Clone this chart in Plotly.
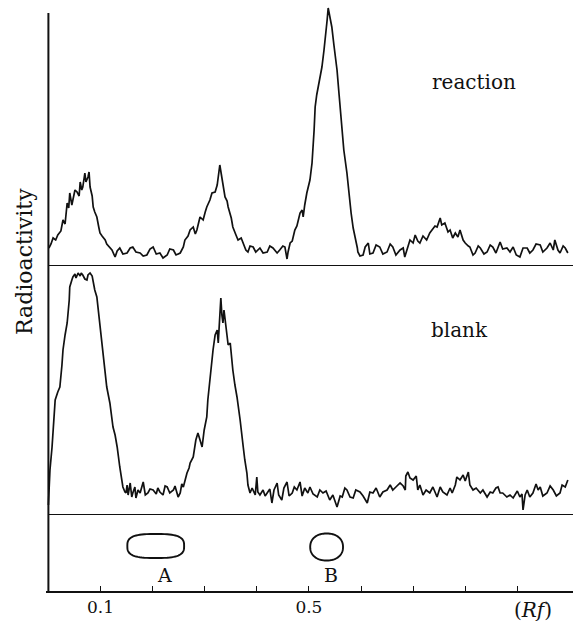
import numpy as np
import plotly.graph_objects as go

# ---------------- data ----------------
reaction_rf = [0.001, 0.005, 0.009, 0.014, 0.018, 0.024, 0.028, 0.032, 0.036, 0.039, 0.041, 0.045, 0.047, 0.051, 0.055, 0.059,
               0.061, 0.064, 0.066, 0.070, 0.072, 0.076, 0.078, 0.080, 0.084, 0.086, 0.089, 0.093, 0.097, 0.099, 0.103, 0.109,
               0.112, 0.118, 0.122, 0.128, 0.132, 0.137, 0.143, 0.151, 0.157, 0.162, 0.168, 0.176, 0.182, 0.189, 0.195, 0.201,
               0.207, 0.214, 0.220, 0.228, 0.233, 0.240, 0.245, 0.253, 0.259, 0.262, 0.268, 0.272, 0.278, 0.282, 0.285, 0.291,
               0.297, 0.301, 0.304, 0.310, 0.314, 0.320, 0.324, 0.329, 0.333, 0.335, 0.339, 0.343, 0.345, 0.351, 0.354, 0.360,
               0.364, 0.370, 0.374, 0.379, 0.383, 0.387, 0.393, 0.398, 0.406, 0.412, 0.420, 0.425, 0.431, 0.439, 0.444, 0.450,
               0.454, 0.458, 0.460, 0.464, 0.468, 0.473, 0.477, 0.483, 0.487, 0.489, 0.492, 0.496, 0.502, 0.506, 0.510, 0.512,
               0.515, 0.518, 0.521, 0.525, 0.529, 0.531, 0.535, 0.537, 0.540, 0.544, 0.548, 0.554, 0.558, 0.564, 0.567, 0.573,
               0.577, 0.581, 0.585, 0.589, 0.593, 0.594, 0.598, 0.604, 0.608, 0.614, 0.617, 0.623, 0.629, 0.636, 0.642, 0.650,
               0.656, 0.661, 0.667, 0.675, 0.681, 0.684, 0.688, 0.694, 0.700, 0.704, 0.709, 0.713, 0.719, 0.726, 0.732, 0.736,
               0.742, 0.746, 0.752, 0.755, 0.761, 0.767, 0.771, 0.776, 0.781, 0.786, 0.790, 0.796, 0.800, 0.806, 0.809, 0.815,
               0.819, 0.825, 0.829, 0.836, 0.842, 0.848, 0.853, 0.859, 0.867, 0.872, 0.880, 0.886, 0.892, 0.898, 0.905, 0.911,
               0.919, 0.924, 0.930, 0.936, 0.944, 0.949, 0.957, 0.963, 0.969, 0.972, 0.978, 0.982, 0.988, 0.992, 0.997]
reaction_counts = [18, 22, 28, 26, 31, 35, 46, 42, 63, 58, 73, 61, 66, 76, 74, 70,
                   84, 76, 79, 93, 84, 89, 94, 79, 70, 59, 54, 49, 38, 33, 30, 26,
                   22, 19, 16, 9, 15, 18, 12, 13, 18, 19, 14, 13, 10, 11, 17, 19,
                   12, 13, 8, 11, 17, 16, 11, 13, 19, 26, 30, 36, 39, 32, 36, 49,
                   46, 54, 59, 66, 73, 74, 81, 101, 89, 81, 69, 65, 59, 48, 39, 31,
                   26, 28, 23, 16, 14, 20, 19, 14, 18, 13, 14, 20, 18, 13, 16, 20,
                   19, 7, 14, 23, 25, 36, 40, 53, 56, 49, 61, 73, 86, 103, 136, 159,
                   171, 179, 188, 199, 216, 229, 246, 258, 251, 239, 221, 196, 171, 133, 116, 93,
                   71, 53, 38, 29, 18, 14, 10, 11, 19, 23, 12, 13, 21, 19, 12, 14,
                   22, 19, 11, 16, 18, 9, 17, 26, 23, 31, 25, 23, 30, 26, 33, 36,
                   40, 39, 48, 41, 43, 34, 36, 28, 33, 29, 36, 26, 23, 20, 19, 11,
                   13, 20, 18, 12, 14, 21, 19, 13, 24, 17, 18, 14, 19, 11, 9, 18,
                   18, 13, 16, 22, 21, 14, 18, 23, 16, 26, 16, 13, 20, 18, 13]

blank_rf = [0.000, 0.003, 0.007, 0.011, 0.013, 0.018, 0.022, 0.026, 0.028, 0.032, 0.036, 0.040, 0.041, 0.045, 0.047, 0.051,
            0.053, 0.057, 0.061, 0.063, 0.066, 0.070, 0.074, 0.076, 0.080, 0.084, 0.086, 0.089, 0.093, 0.099, 0.105, 0.109,
            0.112, 0.118, 0.124, 0.128, 0.132, 0.137, 0.143, 0.147, 0.149, 0.151, 0.153, 0.157, 0.160, 0.162, 0.166, 0.168,
            0.172, 0.176, 0.182, 0.186, 0.191, 0.195, 0.201, 0.207, 0.210, 0.214, 0.220, 0.224, 0.228, 0.233, 0.240, 0.243,
            0.249, 0.253, 0.256, 0.259, 0.262, 0.266, 0.270, 0.272, 0.278, 0.283, 0.287, 0.291, 0.295, 0.299, 0.304, 0.306,
            0.310, 0.314, 0.316, 0.320, 0.324, 0.326, 0.328, 0.329, 0.331, 0.333, 0.335, 0.337, 0.341, 0.343, 0.345, 0.349,
            0.352, 0.354, 0.358, 0.362, 0.368, 0.372, 0.374, 0.377, 0.381, 0.383, 0.387, 0.391, 0.393, 0.397, 0.400, 0.402,
            0.406, 0.412, 0.416, 0.420, 0.425, 0.429, 0.433, 0.439, 0.442, 0.448, 0.452, 0.458, 0.462, 0.468, 0.472, 0.477,
            0.483, 0.487, 0.492, 0.498, 0.502, 0.508, 0.516, 0.521, 0.527, 0.533, 0.540, 0.546, 0.554, 0.560, 0.564, 0.569,
            0.573, 0.579, 0.585, 0.590, 0.598, 0.604, 0.612, 0.617, 0.623, 0.629, 0.636, 0.642, 0.650, 0.656, 0.661, 0.667,
            0.675, 0.681, 0.685, 0.686, 0.690, 0.694, 0.700, 0.706, 0.709, 0.713, 0.719, 0.725, 0.732, 0.738, 0.746, 0.752,
            0.757, 0.765, 0.771, 0.775, 0.781, 0.784, 0.790, 0.796, 0.800, 0.806, 0.809, 0.815, 0.821, 0.829, 0.834, 0.842,
            0.848, 0.853, 0.859, 0.863, 0.867, 0.872, 0.880, 0.886, 0.892, 0.900, 0.905, 0.909, 0.911, 0.915, 0.919, 0.924,
            0.930, 0.936, 0.940, 0.944, 0.949, 0.957, 0.963, 0.969, 0.975, 0.982, 0.986, 0.992, 0.997]
blank_counts = [10, 45, 68, 95, 115, 123, 128, 150, 165, 180, 192, 215, 228, 235, 238, 241,
                237, 242, 239, 242, 240, 236, 235, 240, 242, 239, 232, 225, 218, 188, 158, 145,
                128, 112, 88, 80, 68, 48, 28, 23, 22, 30, 20, 32, 18, 22, 28, 17,
                25, 22, 33, 20, 22, 26, 25, 21, 27, 23, 20, 29, 28, 22, 25, 29,
                18, 22, 31, 28, 35, 42, 47, 52, 58, 75, 82, 75, 68, 85, 98, 115,
                138, 155, 165, 180, 185, 172, 190, 195, 217, 200, 192, 205, 185, 182, 170, 172,
                155, 145, 130, 118, 95, 80, 68, 55, 42, 30, 22, 27, 25, 20, 38, 23,
                20, 25, 19, 22, 26, 12, 25, 32, 20, 15, 27, 33, 19, 22, 28, 25,
                33, 19, 27, 22, 28, 21, 18, 25, 22, 24, 15, 20, 8, 19, 18, 27,
                25, 18, 17, 25, 23, 19, 12, 23, 22, 27, 18, 23, 25, 30, 25, 28,
                32, 29, 25, 39, 43, 37, 35, 39, 25, 30, 20, 25, 22, 28, 18, 28,
                23, 20, 27, 22, 30, 38, 35, 40, 34, 43, 30, 25, 27, 22, 25, 18,
                23, 22, 27, 28, 22, 22, 18, 20, 17, 24, 18, 21, 5, 20, 25, 18,
                22, 31, 25, 28, 19, 22, 29, 25, 19, 22, 30, 28, 35]

tick_vals = [0.1, 0.2, 0.3, 0.4, 0.5, 0.6, 0.7, 0.8, 0.9]
tick_text = ["0.1", "", "", "", "0.5", "", "", "", ""]

spot_names = ["A", "B"]
spot_rf = [0.206, 0.534]
spot_label_rf = [0.223, 0.542]

# ---------------- figure ----------------
W, H = 573, 621
serif = "DejaVu Serif"
ink = "#111111"

def py(p):  # pixel row -> paper y
    return (H - p) / H

x_lo = (46 - 48.4) / 521
x_hi = (573 - 48.4) / 521

fig = go.Figure()
fig.add_trace(go.Scatter(x=reaction_rf, y=reaction_counts, mode="lines",
                         line=dict(color=ink, width=1.7), xaxis="x", yaxis="y",
                         hoverinfo="skip", showlegend=False))
fig.add_trace(go.Scatter(x=blank_rf, y=blank_counts, mode="lines",
                         line=dict(color=ink, width=1.7), xaxis="x", yaxis="y2",
                         hoverinfo="skip", showlegend=False))

shapes = []
# vertical axis line
shapes.append(dict(type="line", xref="x", yref="paper", x0=0.0, x1=0.0,
                   y0=py(591), y1=py(13), line=dict(color=ink, width=2)))
# baselines
shapes.append(dict(type="line", xref="x", yref="y", x0=0.0, x1=x_hi, y0=0, y1=0,
                   line=dict(color=ink, width=2)))
shapes.append(dict(type="line", xref="x", yref="y2", x0=0.0, x1=x_hi, y0=0, y1=0,
                   line=dict(color=ink, width=2)))

# spots (outline drawn around the centre of each spot)
spot_w = [0.109, 0.063]
spot_h = [24, 27]
spot_y = [45, 44]
spot_pow = [3.0, 2.2]
t = np.linspace(0, 2 * np.pi, 73)
for cx, w, h, cy, pw in zip(spot_rf, spot_w, spot_h, spot_y, spot_pow):
    c, s = np.cos(t), np.sin(t)
    xs = cx + (w / 2) * np.sign(c) * np.abs(c) ** (2 / pw)
    ys = cy + (h / 2) * np.sign(s) * np.abs(s) ** (2 / pw)
    path = "M " + " L ".join(f"{a:.5f},{b:.3f}" for a, b in zip(xs, ys)) + " Z"
    shapes.append(dict(type="path", xref="x", yref="y3", path=path,
                       line=dict(color=ink, width=1.9), fillcolor="rgba(0,0,0,0)"))

annotations = []
for name, lx in zip(spot_names, spot_label_rf):
    annotations.append(dict(x=lx, y=16, xref="x", yref="y3", text=name, showarrow=False,
                            xanchor="center", yanchor="middle",
                            font=dict(family=serif, size=19, color=ink)))
annotations.append(dict(x=0.816, y=184, xref="x", yref="y", text="reaction", showarrow=False,
                        xanchor="center", yanchor="middle",
                        font=dict(family=serif, size=20, color=ink)))
annotations.append(dict(x=0.790, y=185, xref="x", yref="y2", text="blank", showarrow=False,
                        xanchor="center", yanchor="middle",
                        font=dict(family=serif, size=20, color=ink)))
annotations.append(dict(x=24 / W, y=py(262), xref="paper", yref="paper", text="Radioactivity",
                        textangle=-90, showarrow=False, xanchor="center", yanchor="middle",
                        font=dict(family=serif, size=22, color=ink)))
annotations.append(dict(x=533 / W, y=py(610), xref="paper", yref="paper", text="(<i>Rf</i>)",
                        showarrow=False, xanchor="center", yanchor="middle",
                        font=dict(family=serif, size=20, color=ink)))

hidden = dict(visible=False, fixedrange=True)
fig.update_layout(
    width=W, height=H,
    margin=dict(l=0, r=0, t=0, b=0),
    paper_bgcolor="white", plot_bgcolor="white",
    showlegend=False,
    xaxis=dict(domain=[46 / W, 1.0], range=[x_lo, x_hi], anchor="y3",
               showline=True, linecolor=ink, linewidth=2, showgrid=False, zeroline=False,
               ticks="inside", ticklen=5, tickwidth=1.3, tickcolor=ink,
               tickvals=tick_vals, ticktext=tick_text,
               tickfont=dict(family=serif, size=17, color=ink)),
    yaxis=dict(domain=[py(266), 1.0], range=[0, 266], **hidden),
    yaxis2=dict(domain=[py(515), py(266)], range=[0, 249], **hidden),
    yaxis3=dict(domain=[py(591), py(515)], range=[0, 76], **hidden),
    shapes=shapes,
    annotations=annotations,
)

fig.write_html("out.html")
